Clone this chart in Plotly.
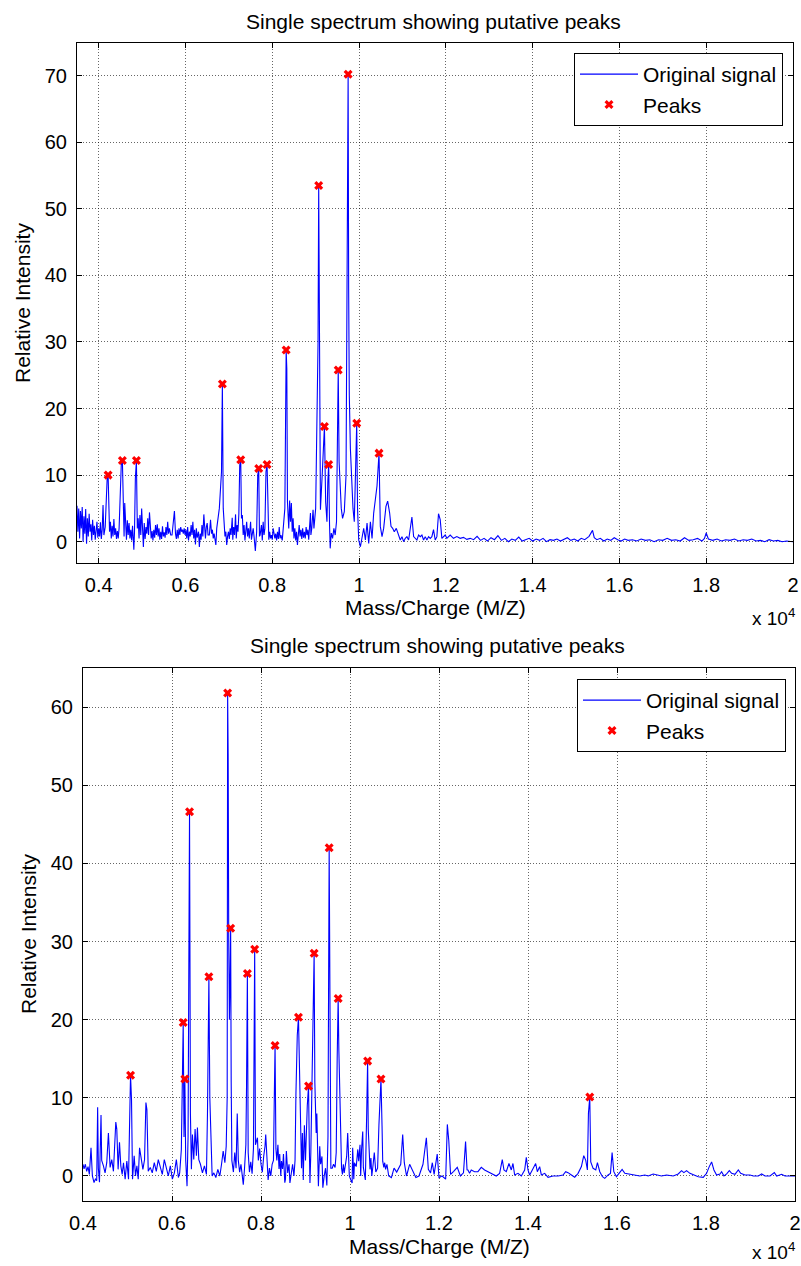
import plotly.graph_objects as go

# ---------------- data (m/z in Da, relative intensity) ----------------
top_signal = [
    (3500, 5.4), (3520, 1.5), (3540, 5.0), (3560, 0.5), (3580, 4.6), (3600, 2.0), (3620, 5.2), (3640, 0.0),
    (3660, 3.8), (3680, 1.2), (3700, 4.9), (3720, -0.3), (3740, 3.5), (3760, 0.8), (3780, 4.2), (3800, 1.5),
    (3820, 2.6), (3840, 0.2), (3860, 3.3), (3880, 1.0), (3900, 2.4), (3920, 0.3), (3940, 1.6), (3960, 3.0),
    (3980, 0.6), (4000, 2.0), (4020, 0.8), (4040, 2.9), (4060, 0.4), (4080, 1.8), (4100, 5.5), (4120, 1.0),
    (4150, 2.2), (4170, 4.8), (4195, 9.5), (4217, 10.0), (4235, 4.0), (4250, 1.5), (4270, 3.0), (4290, 0.5),
    (4310, 2.4), (4330, 0.8), (4350, 3.4), (4370, 1.0), (4390, 2.0), (4410, 0.4), (4430, 1.6), (4450, 0.5),
    (4470, 2.0), (4500, 6.5), (4520, 11.5), (4546, 12.2), (4565, 3.0), (4585, 0.8), (4600, 5.8), (4620, 2.5),
    (4640, 0.3), (4660, 3.2), (4680, 1.0), (4700, 2.8), (4720, 0.5), (4740, 1.8), (4760, 0.2), (4780, 2.4),
    (4800, 0.6), (4810, -1.2), (4825, 1.5), (4845, 9.5), (4869, 12.2), (4890, 2.0), (4910, 3.5), (4930, 0.5),
    (4950, 4.0), (4970, 1.0), (4990, 5.0), (5010, 0.8), (5030, -0.8), (5050, 2.8), (5070, 0.4), (5090, 2.2),
    (5110, 1.2), (5130, 3.5), (5150, 1.0), (5170, 4.4), (5190, 2.0), (5210, 0.5), (5230, 1.6), (5250, 0.2),
    (5270, 1.8), (5290, 0.6), (5310, 2.5), (5330, 1.0), (5350, 2.6), (5370, 0.8), (5390, 2.0), (5410, 0.3),
    (5430, 1.5), (5450, 0.4), (5470, 2.3), (5490, 0.8), (5510, 1.4), (5530, 0.6), (5550, 2.2), (5570, 1.0),
    (5590, 3.0), (5610, 1.2), (5630, 2.0), (5660, 1.0), (5690, 1.0), (5720, 2.5), (5745, 4.6), (5770, 1.2),
    (5790, 0.4), (5810, 1.8), (5830, 0.5), (5850, 2.0), (5870, 1.0), (5890, 2.2), (5910, 1.5), (5930, 1.8),
    (5950, 1.2), (5970, 2.0), (5990, 1.0), (6010, 1.8), (6030, 0.5), (6050, 2.2), (6070, 0.2), (6090, 1.5),
    (6110, 0.8), (6130, 2.5), (6150, 1.0), (6170, 3.0), (6190, 0.5), (6210, 1.8), (6230, -0.4), (6250, 2.0),
    (6270, 0.6), (6300, 1.5), (6320, -0.8), (6340, 1.2), (6360, 0.3), (6380, 2.5), (6400, 0.8), (6423, 4.1),
    (6440, 1.5), (6460, 0.5), (6480, 2.2), (6500, 2.8), (6520, 1.0), (6550, 1.0), (6577, 3.3), (6600, 1.2),
    (6620, 1.8), (6640, 0.5), (6660, 1.2), (6680, 0.3), (6700, -0.5), (6720, 2.0), (6780, 5.0), (6830, 10.5),
    (6850, 23.7), (6870, 5.0), (6890, 2.0), (6910, 0.8), (6930, 1.5), (6950, -0.5), (6970, 0.8), (6990, 1.5),
    (7010, 0.4), (7030, 2.0), (7050, 1.0), (7077, 3.6), (7090, 0.3), (7110, 2.2), (7130, 1.0), (7154, 4.1),
    (7170, 0.5), (7190, 2.5), (7210, 1.5), (7230, 4.2), (7250, 11.5), (7273, 12.3), (7290, 3.5), (7310, 4.0),
    (7330, 1.0), (7350, 2.5), (7370, 0.2), (7390, 1.5), (7410, 3.0), (7430, 0.8), (7450, 2.0), (7470, 0.5),
    (7500, 3.0), (7520, 0.3), (7540, 1.0), (7560, 2.0), (7580, 0.8), (7610, -1.4), (7640, 1.5), (7665, 10.0),
    (7688, 11.0), (7705, 0.8), (7720, 1.0), (7750, 2.5), (7770, 0.2), (7790, 3.0), (7810, 1.0), (7830, 2.0),
    (7855, 10.5), (7880, 11.6), (7900, 2.0), (7920, 0.3), (7940, 1.5), (7960, 0.5), (7980, 1.0), (8000, 0.3),
    (8020, 2.0), (8040, 1.2), (8060, 0.5), (8080, 1.2), (8100, 0.2), (8120, 1.5), (8140, 0.4), (8160, 2.2),
    (8180, 0.5), (8200, 1.0), (8230, 0.2), (8290, 5.0), (8305, 27.0), (8320, 28.8), (8335, 26.0), (8350, 6.0),
    (8380, 2.0), (8400, 6.2), (8420, 3.0), (8440, 5.8), (8460, 1.5), (8480, 3.5), (8500, 0.5), (8520, 2.0),
    (8540, 0.2), (8560, 1.5), (8580, -0.5), (8600, 1.0), (8620, 2.5), (8640, 0.8), (8660, 1.8), (8680, 0.4),
    (8700, 2.0), (8720, 0.6), (8740, 1.5), (8760, 0.5), (8780, 2.2), (8800, 1.0), (8820, 1.8), (8840, 0.3),
    (8860, 2.5), (8880, 4.3), (8890, 1.0), (8910, 2.0), (8940, 4.8), (8960, 2.0), (9000, 5.0), (9055, 30.0),
    (9070, 53.5), (9090, 25.0), (9110, 4.8), (9150, 10.0), (9202, 17.3), (9230, 6.0), (9260, 3.0), (9280, 9.0),
    (9300, 11.6), (9320, 2.5), (9335, -1.0), (9360, 1.3), (9390, 0.5), (9420, 2.0), (9450, 1.0), (9480, 3.0),
    (9505, 18.0), (9520, 25.8), (9540, 12.0), (9560, 9.0), (9590, 5.0), (9620, 3.5), (9660, 4.5), (9700, 10.0),
    (9738, 53.0), (9748, 70.2), (9760, 38.0), (9775, 22.0), (9800, 14.0), (9830, 9.0), (9860, 5.0), (9890, 3.0),
    (9915, 9.0), (9946, 17.8), (9965, 5.0), (9992, 0.25), (10031, -0.76), (10069, 0.76), (10107, 2.0),
    (10146, 0.25), (10184, 2.8), (10222, -0.25), (10261, 3.0), (10299, 0.5), (10337, 4.3), (10375, 6.3),
    (10414, 8.4), (10460, 13.3), (10490, 2.3), (10529, 0.76), (10567, 2.0), (10620, 5.3), (10659, 6.1),
    (10705, 4.3), (10736, 2.3), (10774, 2.0), (10812, 1.5), (10858, 2.0), (10912, 0.76), (10950, 0.25),
    (10989, 0.76), (11027, 0.0), (11065, 0.5), (11103, 0.76), (11142, 0.25), (11180, 1.8), (11218, 3.7),
    (11257, 0.76), (11333, 0.25), (11372, 1.0), (11410, 0.76), (11448, 1.0), (11487, 0.25), (11525, 0.76),
    (11563, 0.25), (11602, 0.76), (11640, 0.5), (11678, 0.76), (11716, 1.8), (11755, 0.25), (11793, 0.76),
    (11831, 4.2), (11870, 3.3), (11908, 0.5), (11946, 0.76), (11985, 1.0), (12023, 0.5), (12100, 1.0),
    (12176, 0.5), (12253, 0.76), (12330, 0.5), (12406, 0.65), (12483, 0.35), (12560, 0.5), (12640, 0.3),
    (12720, 0.8), (12800, 0.2), (12880, 0.5), (12960, 0.1), (13040, 0.6), (13120, 0.3), (13200, 0.9),
    (13280, 0.2), (13360, 0.5), (13440, 0.0), (13520, 0.4), (13600, 0.2), (13680, 0.7), (13760, 0.1),
    (13840, 0.3), (13920, 0.5), (14000, 0.1), (14080, 0.4), (14160, 0.2), (14240, 0.5), (14320, 0.0),
    (14400, 0.3), (14480, 0.2), (14560, 0.4), (14640, 0.1), (14720, 0.3), (14800, 0.6), (14880, 0.2),
    (14960, 0.4), (15040, 0.1), (15120, 0.5), (15200, 0.3), (15300, 0.8), (15380, 1.7), (15420, 0.6),
    (15480, 0.3), (15560, 0.5), (15640, 0.1), (15720, 0.4), (15800, 0.2), (15880, 0.6), (15960, 0.3),
    (16040, 0.1), (16120, 0.4), (16200, 0.2), (16300, 0.3), (16400, 0.1), (16500, 0.4), (16600, 0.2),
    (16700, 0.3), (16800, 0.0), (16900, 0.3), (17000, 0.2), (17100, 0.5), (17200, 0.2), (17300, 0.3),
    (17400, 0.1), (17500, 0.6), (17600, 0.2), (17700, 0.3), (17800, 0.5), (17900, 0.1), (17960, 0.5),
    (18000, 1.3), (18050, 0.4), (18150, 0.2), (18250, 0.4), (18350, 0.1), (18450, 0.3), (18550, 0.2),
    (18650, 0.4), (18750, 0.1), (18850, 0.3), (18950, 0.2), (19050, 0.4), (19150, 0.1), (19250, 0.2),
    (19350, 0.0), (19450, 0.3), (19550, 0.1), (19650, 0.2), (19750, 0.0), (19850, 0.1), (20000, 0.0),
]
top_peak_mz = [4217, 4546, 4869, 6850, 7273, 7688, 7880, 8320, 9070, 9202, 9300, 9520, 9748, 9946, 10460]
top_peak_int = [10.0, 12.2, 12.2, 23.7, 12.3, 11.0, 11.6, 28.8, 53.5, 17.3, 11.6, 25.8, 70.2, 17.8, 13.3]

bottom_signal = [
    (4000, 1.5), (4023, 0.9), (4053, 1.5), (4083, 0.6), (4113, 1.2), (4143, 0.2), (4180, 3.6), (4211, 0.0),
    (4248, -0.85), (4278, -0.4), (4308, -0.6), (4329, 8.8), (4345, 1.0), (4370, -0.8), (4405, 7.8), (4420, 2.0),
    (4459, 1.3), (4496, 0.4), (4534, 1.7), (4571, 5.5), (4609, 1.1), (4647, 2.1), (4684, 0.6), (4737, 6.9),
    (4759, 6.0), (4789, 0.85), (4820, 4.3), (4850, 1.3), (4880, 0.2), (4910, 1.7), (4947, -0.4), (4985, 1.9),
    (5023, -0.4), (5045, 4.7), (5068, 12.9), (5090, 9.8), (5113, -0.4), (5150, 2.6), (5180, 0.0), (5211, 1.3),
    (5241, -0.4), (5271, 3.6), (5308, 1.9), (5346, 0.85), (5383, 2.1), (5414, 9.4), (5436, 8.5), (5466, 0.6),
    (5511, 1.1), (5556, 0.4), (5602, 1.7), (5647, 0.6), (5692, 2.1), (5737, 1.1), (5782, 0.2), (5827, 2.1),
    (5872, 0.85), (5917, 0.0), (5962, 1.3), (6008, -0.4), (6053, 0.4), (6098, 2.1), (6143, -0.2), (6173, 0.4),
    (6210, 3.4), (6233, 17.0), (6252, 19.65), (6270, 5.0), (6289, 12.4), (6308, 2.0), (6338, -1.3), (6361, 5.0),
    (6394, 46.6), (6414, 8.0), (6436, 0.85), (6459, 5.3), (6489, 2.1), (6519, 6.0), (6549, 2.6), (6571, 6.2),
    (6602, 2.1), (6639, 1.5), (6684, 0.4), (6729, 1.3), (6774, 0.2), (6797, 8.0), (6829, 25.5), (6850, 10.0),
    (6880, 2.0), (6902, 0.0), (6940, 0.4), (6985, -0.2), (7030, 0.85), (7075, 0.0), (7113, 1.5), (7150, 3.2),
    (7188, 1.7), (7218, 3.8), (7240, 10.0), (7250, 61.8), (7262, 54.0), (7275, 30.0), (7290, 20.0), (7305, 25.0),
    (7318, 31.7), (7330, 12.0), (7345, 2.0), (7380, 0.5), (7410, 3.0), (7440, 1.0), (7466, 8.0), (7490, 2.0),
    (7520, 0.5), (7550, 1.5), (7602, -1.1), (7630, 1.0), (7660, 4.0), (7675, 11.5), (7694, 25.9), (7712, 3.0),
    (7740, 0.5), (7770, 1.8), (7800, 0.3), (7830, 3.5), (7845, 20.0), (7858, 29.0), (7875, 4.0), (7900, 4.5),
    (7920, 4.9), (7940, 2.0), (7970, 3.5), (8000, 1.5), (8030, 0.5), (8060, 2.5), (8090, 3.8), (8106, 5.3),
    (8130, 2.0), (8160, -0.5), (8190, 1.0), (8220, 0.0), (8250, 1.5), (8280, 2.0), (8300, 10.5), (8316, 16.7),
    (8335, 3.5), (8356, 2.0), (8380, 4.0), (8405, 0.9), (8420, 2.8), (8445, 0.0), (8460, 1.9), (8485, 0.9),
    (8505, 2.8), (8535, -0.85), (8550, -0.4), (8570, 3.2), (8600, 0.4), (8630, 1.5), (8650, -0.9), (8680, 0.5),
    (8710, 1.5), (8740, 0.0), (8765, 2.0), (8785, 10.5), (8815, 18.0), (8842, 20.3), (8860, 14.5), (8875, 9.0),
    (8890, 4.5), (8910, 1.0), (8930, 5.5), (8950, -0.5), (8975, 6.5), (9000, 2.0), (9040, 9.0), (9068, 11.5),
    (9085, 4.0), (9100, -0.9), (9120, 3.0), (9150, 15.0), (9175, 22.5), (9194, 28.5), (9210, 12.0), (9228, 8.0),
    (9240, 5.5), (9255, 8.0), (9270, 2.0), (9290, -1.3), (9320, 3.8), (9340, 1.5), (9370, 2.5), (9390, -1.5),
    (9420, 0.0), (9450, 1.0), (9480, -1.2), (9505, 5.0), (9532, 42.0), (9550, 10.0), (9570, 1.0), (9600, 1.0),
    (9630, 1.5), (9665, 1.1), (9690, 3.0), (9712, 15.0), (9734, 22.7), (9750, 16.0), (9770, 9.5), (9790, 3.8),
    (9810, 1.0), (9830, 0.2), (9850, 1.5), (9870, 0.4), (9900, 1.5), (9925, 2.5), (9948, 5.5), (9965, 2.1),
    (9985, 0.0), (10010, -0.4), (10048, -0.9), (10060, 3.6), (10085, -0.4), (10100, 1.7), (10140, 1.2),
    (10175, 3.4), (10195, 1.9), (10225, 4.0), (10240, 0.0), (10260, 3.4), (10286, 5.7), (10300, 1.1),
    (10320, 0.2), (10345, -0.5), (10375, 8.0), (10396, 14.7), (10410, 6.0), (10430, 1.9), (10450, 0.85),
    (10470, 2.3), (10490, 0.0), (10520, 1.5), (10546, 3.0), (10580, 0.5), (10620, 1.0), (10650, 6.5),
    (10696, 12.4), (10720, 6.4), (10735, 1.9), (10760, 1.1), (10780, 1.7), (10800, 0.85), (10830, 1.5),
    (10870, 0.0), (10930, -0.2), (10990, 1.0), (11050, 0.5), (11140, 1.5), (11184, 5.3), (11220, 1.7),
    (11270, 0.0), (11340, 1.5), (11400, 0.85), (11480, -0.2), (11550, 0.0), (11640, 1.5), (11716, 4.9),
    (11760, 0.85), (11810, 0.4), (11850, 1.7), (11890, 0.2), (11960, 2.8), (12000, -0.2), (12070, 0.0),
    (12150, -0.4), (12187, 6.6), (12220, 4.5), (12260, 0.2), (12330, 0.6), (12410, 1.1), (12480, 0.0),
    (12550, 0.4), (12597, 4.4), (12630, 0.8), (12650, 0.77), (12687, 0.34), (12725, 0.77), (12800, 0.55),
    (12875, 0.55), (12950, 1.1), (13025, 0.77), (13100, 0.55), (13212, 0.26), (13287, 0.0), (13362, 0.34),
    (13422, 2.1), (13460, 0.77), (13512, 0.55), (13572, 1.6), (13625, 0.77), (13662, 1.6), (13700, 0.13),
    (13775, 0.34), (13850, 0.0), (13925, 0.77), (13962, 2.4), (14000, 0.77), (14037, 0.13), (14097, 0.77),
    (14172, 1.6), (14210, 0.55), (14262, 1.2), (14300, 0.13), (14375, 0.34), (14450, -0.17), (14562, 0.0),
    (14675, 0.0), (14787, 0.13), (14847, 0.55), (14900, 0.43), (14975, 0.13), (15050, -0.17), (15125, 0.34),
    (15200, 1.2), (15253, 2.6), (15298, 2.0), (15335, 0.77), (15358, 8.0), (15388, 10.1), (15410, 1.8),
    (15463, 0.98), (15523, 0.77), (15560, 1.7), (15613, 0.55), (15673, -0.09), (15725, -0.3), (15800, 0.13),
    (15853, 0.34), (15890, 3.0), (15928, 0.55), (15988, -0.09), (16063, 0.43), (16115, 0.85), (16176, 0.34),
    (16251, 0.26), (16326, 0.26), (16401, 0.13), (16513, 0.0), (16626, 0.13), (16701, 0.0), (16813, 0.26),
    (16888, 0.13), (17001, 0.0), (17113, 0.13), (17263, 0.0), (17376, 0.26), (17451, 0.68), (17503, 0.43),
    (17563, 0.68), (17638, 0.34), (17713, 0.13), (17826, -0.09), (17938, -0.17), (18013, 0.34), (18073, 1.2),
    (18126, 1.8), (18178, 0.77), (18238, 0.13), (18313, 0.26), (18351, 0.55), (18404, 0.0), (18464, 0.26),
    (18524, 0.68), (18576, 0.34), (18651, 0.21), (18726, 0.77), (18779, 0.34), (18876, 0.13), (18989, 0.13),
    (19064, 0.0), (19176, 0.0), (19251, 0.26), (19326, 0.0), (19439, 0.0), (19536, 0.43), (19589, 0.0),
    (19701, 0.21), (19776, 0.0), (19889, 0.0), (20000, 0.0),
]
bottom_peak_mz = [5068, 6252, 6289, 6394, 6829, 7250, 7318, 7694, 7858, 8316, 8842, 9068, 9194, 9532, 9734,
                  10396, 10696, 15388]
bottom_peak_int = [12.9, 19.65, 12.4, 46.6, 25.5, 61.8, 31.7, 25.9, 29.0, 16.7, 20.3, 11.5, 28.5, 42.0, 22.7,
                   14.7, 12.4, 10.1]

x_tick_vals = [4000, 6000, 8000, 10000, 12000, 14000, 16000, 18000, 20000]
x_tick_text = ["0.4", "0.6", "0.8", "1", "1.2", "1.4", "1.6", "1.8", "2"]
top_y_ticks = [0, 10, 20, 30, 40, 50, 60, 70]
bottom_y_ticks = [0, 10, 20, 30, 40, 50, 60]

title_text = "Single spectrum showing putative peaks"
x_label = "Mass/Charge (M/Z)"
y_label = "Relative Intensity"

# ---------------- figure ----------------
W, H = 801, 1266
FONT = "Liberation Sans, Arial, Helvetica, sans-serif"


def px(x):
    return x / W


def py(y):
    return 1 - y / H


top_mz, top_int = zip(*top_signal)
bot_mz, bot_int = zip(*bottom_signal)

fig = go.Figure()
fig.add_trace(go.Scatter(x=top_mz, y=top_int, mode="lines", name="Original signal",
                         line=dict(color="#0000FF", width=1.1), xaxis="x", yaxis="y", legend="legend"))
fig.add_trace(go.Scatter(x=top_peak_mz, y=top_peak_int, mode="markers", name="Peaks",
                         marker=dict(symbol="x", color="#FF0000", size=8), xaxis="x", yaxis="y",
                         legend="legend"))
fig.add_trace(go.Scatter(x=bot_mz, y=bot_int, mode="lines", name="Original signal",
                         line=dict(color="#0000FF", width=1.1), xaxis="x2", yaxis="y2", legend="legend2"))
fig.add_trace(go.Scatter(x=bottom_peak_mz, y=bottom_peak_int, mode="markers", name="Peaks",
                         marker=dict(symbol="x", color="#FF0000", size=8), xaxis="x2", yaxis="y2",
                         legend="legend2"))

axis_common = dict(
    automargin=False,
    showline=True, linecolor="black", linewidth=1, mirror="ticks",
    ticks="inside", ticklen=5, tickcolor="black", tickwidth=1,
    showgrid=True, gridcolor="rgba(0,0,0,0.6)", gridwidth=1, griddash="1px,2px",
    zeroline=False, tickfont=dict(family=FONT, size=20, color="black"),
)

fig.update_layout(
    template="none",
    width=W, height=H,
    margin=dict(l=0, r=0, t=0, b=0, pad=0, autoexpand=False),
    paper_bgcolor="white", plot_bgcolor="white",
    font=dict(family=FONT, color="black"),
    showlegend=True,
    xaxis=dict(domain=[px(77), px(793)], range=[3500, 20000], anchor="y",
               tickmode="array", tickvals=x_tick_vals, ticktext=x_tick_text,
               ticklabelstandoff=4, **axis_common),
    yaxis=dict(domain=[py(563), py(43)], range=[-3.2, 74.9], anchor="x",
               tickmode="array", tickvals=top_y_ticks, ticklabelstandoff=5, **axis_common),
    xaxis2=dict(domain=[px(83), px(795)], range=[4000, 20000], anchor="y2",
                tickmode="array", tickvals=x_tick_vals, ticktext=x_tick_text,
                ticklabelstandoff=4, **axis_common),
    yaxis2=dict(domain=[py(1201), py(668)], range=[-3.2, 65], anchor="x2",
                tickmode="array", tickvals=bottom_y_ticks, ticklabelstandoff=5, **axis_common),
    legend=dict(x=px(783), y=py(53), xanchor="right", yanchor="top",
                bgcolor="white", bordercolor="black", borderwidth=1,
                font=dict(family=FONT, size=21, color="black"), itemwidth=58, tracegroupgap=0),
    legend2=dict(x=px(786), y=py(679), xanchor="right", yanchor="top",
                 bgcolor="white", bordercolor="black", borderwidth=1,
                 font=dict(family=FONT, size=21, color="black"), itemwidth=58, tracegroupgap=0),
)

ann_font = dict(family=FONT, size=21, color="black")
annotations = [
    dict(text=title_text, x=px(433), y=py(21), xref="paper", yref="paper",
         xanchor="center", yanchor="middle", showarrow=False, font=ann_font),
    dict(text=title_text, x=px(437), y=py(645), xref="paper", yref="paper",
         xanchor="center", yanchor="middle", showarrow=False, font=ann_font),
    dict(text=x_label, x=px(435), y=py(607), xref="paper", yref="paper",
         xanchor="center", yanchor="middle", showarrow=False, font=ann_font),
    dict(text=x_label, x=px(439), y=py(1246), xref="paper", yref="paper",
         xanchor="center", yanchor="middle", showarrow=False, font=ann_font),
    dict(text=y_label, x=px(23), y=py(303), xref="paper", yref="paper", textangle=-90,
         xanchor="center", yanchor="middle", showarrow=False, font=ann_font),
    dict(text=y_label, x=px(28), y=py(934), xref="paper", yref="paper", textangle=-90,
         xanchor="center", yanchor="middle", showarrow=False, font=ann_font),
    dict(text="x 10<sup>4</sup>", x=px(797), y=py(617), xref="paper", yref="paper",
         xanchor="right", yanchor="middle", showarrow=False, font=dict(family=FONT, size=19, color="black")),
    dict(text="x 10<sup>4</sup>", x=px(797), y=py(1251), xref="paper", yref="paper",
         xanchor="right", yanchor="middle", showarrow=False, font=dict(family=FONT, size=19, color="black")),
]
fig.update_layout(annotations=annotations)

fig.write_html("out.html", config={"displayModeBar": False})
